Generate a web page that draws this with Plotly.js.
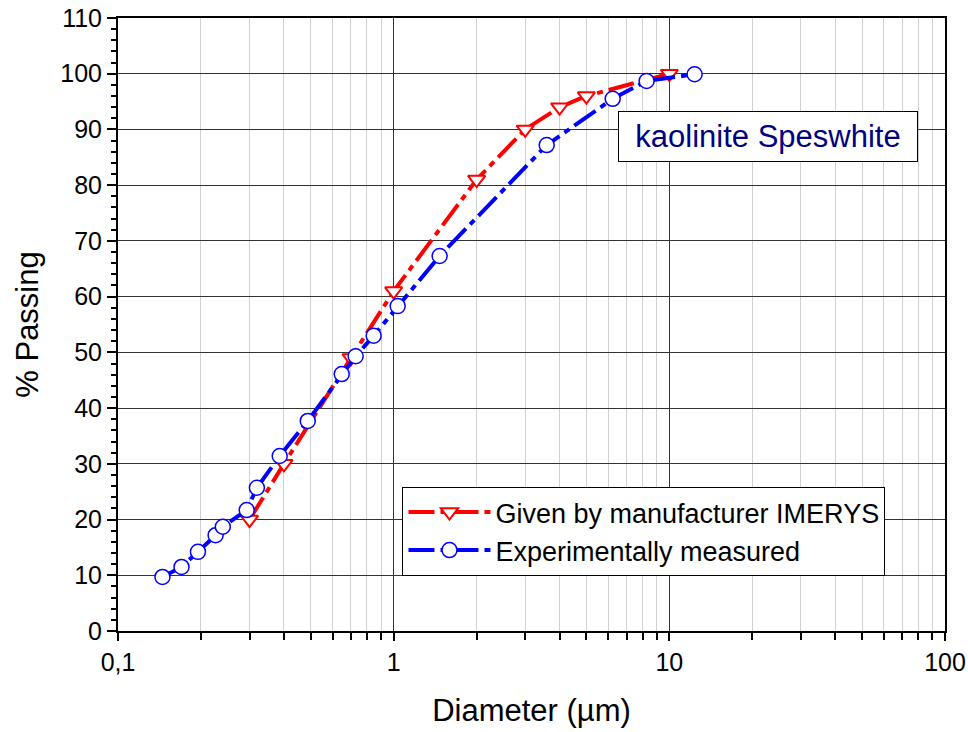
<!DOCTYPE html>
<html>
<head>
<meta charset="utf-8">
<script src="https://cdn.plot.ly/plotly-3.0.1.min.js"></script>
<style>html,body{margin:0;padding:0;background:#fff}#chart{width:968px;height:732px}</style>
</head>
<body>
<div id="chart"></div>
<script>
// Data
const manufX = [0.3, 0.4, 0.7, 1, 2, 3, 4, 5, 10];
const manufY = [20, 30, 49, 61, 81, 90, 94, 96, 100];
const measX = [0.145, 0.17, 0.195, 0.226, 0.24, 0.293, 0.319, 0.386, 0.488, 0.648, 0.728, 0.846, 1.034, 1.468, 3.59, 6.23, 8.27, 12.35];
const measY = [9.7, 11.5, 14.2, 17.2, 18.7, 21.7, 25.7, 31.4, 37.7, 46.1, 49.3, 53.0, 58.3, 67.3, 87.2, 95.5, 98.7, 99.9];
const xTickVals = [0.1, 1, 10, 100];
const xTickText = ['0,1', '1', '10', '100'];
const seriesNames = ['Given by manufacturer IMERYS', 'Experimentally measured'];
const annotationText = 'kaolinite Speswhite';

const minorVals = [];
[0.1, 1, 10].forEach(d => { for (let k = 2; k <= 9; k++) minorVals.push(+(d * k).toPrecision(3)); });

const font = 'Liberation Sans, Arial, sans-serif';
const dashPat = '26px,6px,6px,6px';

const traces = [
  {
    x: manufX, y: manufY, name: seriesNames[0], type: 'scatter', mode: 'lines+markers',
    line: {color: '#ff0000', width: 4, dash: dashPat},
    marker: {symbol: 'triangle-down', size: 15, color: '#ffffff', line: {color: '#ff0000', width: 2}}
  },
  {
    x: measX, y: measY, name: seriesNames[1], type: 'scatter', mode: 'lines+markers',
    line: {color: '#0000ff', width: 4, dash: dashPat},
    marker: {symbol: 'circle', size: 15, color: '#ffffff', line: {color: '#0000ff', width: 1.5}}
  }
];

const layout = {
  width: 968, height: 732,
  margin: {l: 118, r: 23, t: 18, b: 101},
  paper_bgcolor: '#ffffff', plot_bgcolor: '#ffffff',
  font: {family: font, color: '#000', size: 20},
  showlegend: true,
  xaxis: {
    type: 'log', range: [-1, 2],
    tickmode: 'array', tickvals: xTickVals, ticktext: xTickText,
    ticks: 'outside', ticklen: 8, tickwidth: 2, tickcolor: '#000',
    showgrid: true, gridcolor: '#333', gridwidth: 1,
    showline: true, linecolor: '#000', linewidth: 2, mirror: true,
    zeroline: false,
    tickfont: {size: 25, family: font},
    minor: {tickmode: 'array', tickvals: minorVals, ticks: 'outside', ticklen: 7, tickwidth: 2, tickcolor: '#000', showgrid: true, gridcolor: '#d0d0d0', gridwidth: 1},
    title: {text: 'Diameter (µm)', font: {size: 31, family: font}, standoff: 24}
  },
  yaxis: {
    range: [0, 110], dtick: 10, tick0: 0,
    ticks: 'outside', ticklen: 9, tickwidth: 2, tickcolor: '#000',
    showgrid: true, gridcolor: '#333', gridwidth: 1,
    showline: true, linecolor: '#000', linewidth: 2, mirror: true,
    zeroline: false,
    tickfont: {size: 25, family: font},
    minor: {dtick: 2, ticks: 'outside', ticklen: 5, tickwidth: 2, tickcolor: '#000', showgrid: false},
    title: {text: '% Passing', font: {size: 31, family: font}, standoff: 12}
  },
  legend: {
    x: 0.344, y: 0.235, xanchor: 'left', yanchor: 'top',
    bgcolor: '#ffffff', bordercolor: '#000', borderwidth: 1,
    font: {size: 27, family: font}, itemwidth: 82, tracegroupgap: 0
  },
  annotations: [{
    text: annotationText, xref: 'paper', yref: 'paper', x: 0.786, y: 0.806,
    xanchor: 'center', yanchor: 'middle', showarrow: false,
    font: {size: 31, color: '#000080', family: font},
    width: 286, height: 37,
    bgcolor: '#ffffff', bordercolor: '#000', borderwidth: 1, borderpad: 6
  }]
};

Plotly.newPlot('chart', traces, layout, {displayModeBar: false, staticPlot: true});
</script>
</body>
</html>
